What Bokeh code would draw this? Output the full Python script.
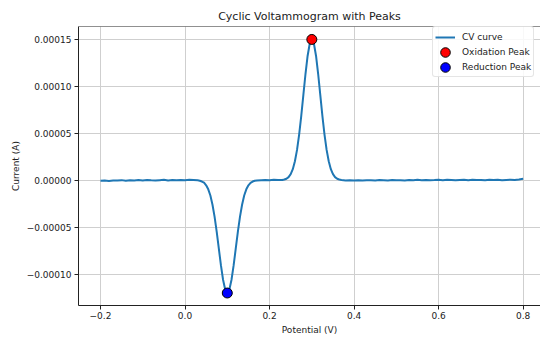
from bokeh.plotting import figure
from bokeh.models import (Range1d, FixedTicker, CustomJSTickFormatter, Span,
                          ColumnDataSource, Legend, LegendItem)
from bokeh.embed import file_html
from bokeh.resources import INLINE

# ---- data ----
potential = [
    -0.20, -0.19, -0.18, -0.17, -0.16, -0.15, -0.14, -0.13, -0.12, -0.11,
    -0.10, -0.09, -0.08, -0.07, -0.06, -0.05, -0.04, -0.03, -0.02, -0.01,
    0.00, 0.01, 0.02,
    0.030, 0.035, 0.040, 0.045, 0.050, 0.055, 0.060, 0.065, 0.070, 0.075,
    0.080, 0.085, 0.090, 0.095, 0.100, 0.105, 0.110, 0.115, 0.120, 0.125,
    0.130, 0.135, 0.140, 0.145, 0.150, 0.155, 0.160, 0.165, 0.170,
    0.18, 0.19, 0.20, 0.21, 0.22,
    0.230, 0.235, 0.240, 0.245, 0.250, 0.255, 0.260, 0.265, 0.270, 0.275,
    0.280, 0.285, 0.290, 0.295, 0.300, 0.305, 0.310, 0.315, 0.320, 0.325,
    0.330, 0.335, 0.340, 0.345, 0.350, 0.355, 0.360, 0.365, 0.370,
    0.38, 0.39, 0.40, 0.41, 0.42, 0.43, 0.44, 0.45, 0.46, 0.47,
    0.48, 0.49, 0.50, 0.51, 0.52, 0.53, 0.54, 0.55, 0.56, 0.57,
    0.58, 0.59, 0.60, 0.61, 0.62, 0.63, 0.64, 0.65, 0.66, 0.67,
    0.68, 0.69, 0.70, 0.71, 0.72, 0.73, 0.74, 0.75, 0.76, 0.77,
    0.78, 0.79, 0.80,
]
current_uA = [
    -0.4, -0.2, -0.6, -0.1, -0.3, 0.2, -0.5, 0.1, -0.2, 0.3,
    -0.1, 0.4, 0.0, -0.3, 0.2, 0.5, -0.1, 0.3, 0.1, 0.4,
    0.2, 0.5, 0.3,
    0.1, -0.4, -1.3, -2.5, -5.3, -9.6, -16.2, -26.0, -39.0, -54.9,
    -72.8, -90.6, -105.9, -116.3, -120.0, -116.3, -105.9, -90.6, -72.8, -54.9,
    -39.0, -26.0, -16.2, -9.6, -5.3, -2.7, -1.3, -0.4, -0.1,
    0.2, 0.4, 0.1, 0.5, 0.3,
    0.4, 0.9, 1.7, 3.4, 6.6, 11.9, 20.3, 32.4, 48.7, 68.7,
    91.0, 113.2, 132.4, 145.4, 150.0, 145.4, 132.4, 113.2, 91.0, 68.7,
    48.7, 32.4, 20.3, 11.9, 6.6, 3.4, 1.7, 0.9, 0.4,
    -0.1, 0.2, -0.2, 0.1, -0.3, 0.2, 0.0, -0.2, 0.3, 0.1,
    -0.1, 0.4, 0.0, 0.2, -0.2, 0.3, 0.1, 0.5, 0.2, 0.4,
    0.1, 0.3, 0.6, 0.2, 0.5, 0.3, 0.1, 0.4, 0.6, 0.2,
    0.5, 0.3, 0.4, 0.2, 0.6, 0.3, 0.5, 0.2, 0.4, 0.6,
    0.3, 0.9, 1.6,
]
UA = 1e-6
current = [c * UA for c in current_uA]

ox_peak_x = [0.30]
ox_peak_y = [1.5e-4]
red_peak_x = [0.10]
red_peak_y = [-1.2e-4]

x_ticks = [-0.2, 0.0, 0.2, 0.4, 0.6, 0.8]
y_ticks = [-0.00010, -0.00005, 0.0, 0.00005, 0.00010, 0.00015]

title = "Cyclic Voltammogram with Peaks"
x_label = "Potential (V)"
y_label = "Current (A)"

# ---- figure ----
FONT = "DejaVu Sans"
x0, x1 = -0.252, 0.841
y0, y1 = -0.0001333, 0.0001638

p = figure(width=540, height=337, output_backend="svg", toolbar_location=None,
           x_range=Range1d(x0, x1), y_range=Range1d(y0, y1),
           min_border_left=78, min_border_right=0, min_border_top=26,
           min_border_bottom=0)
p.background_fill_color = "white"
p.border_fill_color = "white"
p.outline_line_color = None

p.title.text = title
p.title.text_font = FONT
p.title.text_font_size = "11px"
p.title.text_font_style = "normal"
p.title.text_color = "#222222"
p.title.align = "center"
p.title.standoff = 7

for ax, lab, ticks, code in (
        (p.xaxis, x_label, x_ticks,
         "return (tick < 0 ? '\u2212' : '') + Math.abs(tick).toFixed(1);"),
        (p.yaxis, y_label, y_ticks,
         "return (tick < 0 ? '\u2212' : '') + Math.abs(tick).toFixed(5);")):
    ax.ticker = FixedTicker(ticks=ticks)
    ax.formatter = CustomJSTickFormatter(code=code)
    ax.axis_label = lab
    ax.axis_label_text_font = FONT
    ax.axis_label_text_font_size = "9px"
    ax.axis_label_text_font_style = "normal"
    ax.axis_label_text_color = "#222222"
    ax.major_label_text_font = FONT
    ax.major_label_text_font_size = "9px"
    ax.major_label_text_color = "#222222"
    ax.axis_line_color = "#222222"
    ax.major_tick_line_color = "#222222"
    ax.major_tick_in = 0
    ax.major_tick_out = 4
    ax.minor_tick_line_color = None
    ax.major_label_standoff = 3
    ax.axis_label_standoff = 3
p.xaxis.major_label_standoff = 2

p.xgrid.ticker = FixedTicker(ticks=x_ticks)
p.ygrid.ticker = FixedTicker(ticks=y_ticks)
for g in (p.xgrid, p.ygrid):
    g.grid_line_color = "#cfcfcf"
    g.grid_line_width = 1

p.add_layout(Span(location=y1, dimension="width", line_color="#222222",
                  line_width=1))

# marker diameter in pixels, expressed through the fixed ranges' scale
MARK_PX = 10
frame_w_px, frame_h_px = 462.0, 281.0
mw = MARK_PX * (x1 - x0) / frame_w_px
mh = MARK_PX * (y1 - y0) / frame_h_px

src = ColumnDataSource(dict(x=potential, y=current))
r_line = p.line("x", "y", source=src, line_color="#1f77b4", line_width=2)
r_ox = p.ellipse(ox_peak_x, ox_peak_y, width=mw, height=mh, fill_color="red",
                 line_color="black", line_width=1)
r_red = p.ellipse(red_peak_x, red_peak_y, width=mw, height=mh,
                  fill_color="blue", line_color="black", line_width=1)

legend = Legend(items=[LegendItem(label="CV curve", renderers=[r_line]),
                       LegendItem(label="Oxidation Peak", renderers=[r_ox]),
                       LegendItem(label="Reduction Peak", renderers=[r_red])],
                location=(354, 228))
legend.label_text_font = FONT
legend.label_text_font_size = "9px"
legend.label_text_color = "#222222"
legend.glyph_width = 20
legend.glyph_height = 12
legend.label_height = 15
legend.spacing = 0
legend.padding = 2
legend.margin = 0
legend.label_standoff = 7
legend.border_line_color = "#cccccc"
legend.border_radius = 3
legend.background_fill_alpha = 0.85
p.add_layout(legend)

open("out.html", "w").write(file_html(p, INLINE))
